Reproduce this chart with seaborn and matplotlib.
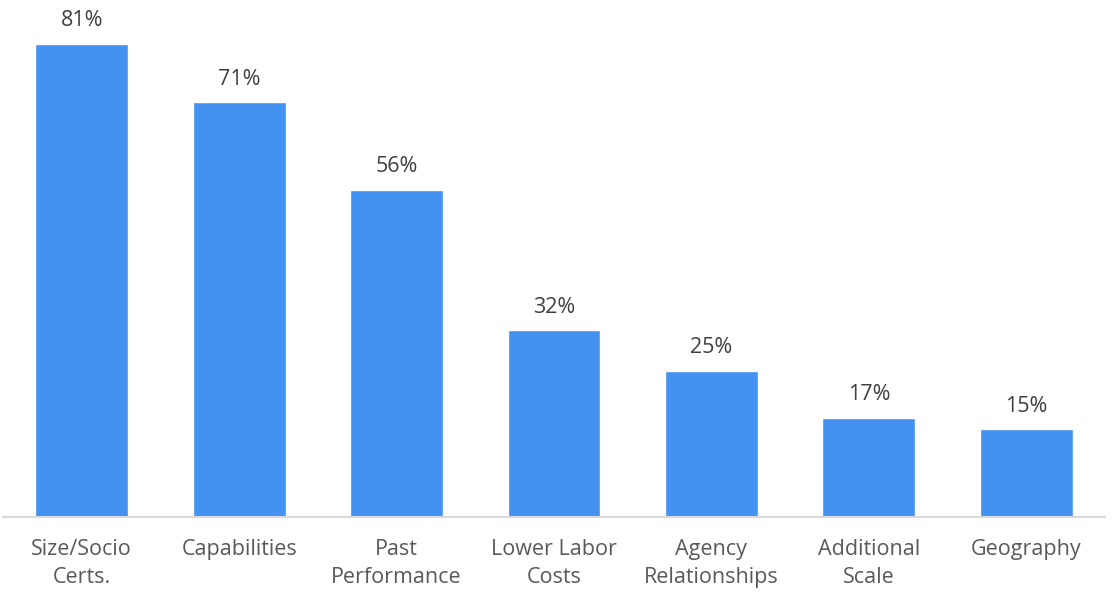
import matplotlib
matplotlib.use("Agg")
import matplotlib.pyplot as plt
import seaborn as sns
import pandas as pd

# data
categories = ["Size/Socio\nCerts.", "Capabilities", "Past\nPerformance", "Lower Labor\nCosts",
              "Agency\nRelationships", "Additional\nScale", "Geography"]
values = [81, 71, 56, 32, 25, 17, 15]

sns.set_style("white")
plt.rcParams['font.family'] = ['Open Sans', 'DejaVu Sans']

df = pd.DataFrame({"category": categories, "value": values})

fig = plt.figure(figsize=(11.16, 6.01), dpi=100)
ax = fig.add_axes([3 / 1116, (601 - 517) / 601, 1102 / 1116, 517 / 601])
sns.barplot(data=df, x="category", y="value", color="#4391F0", saturation=1,
            width=0.59, ax=ax)

ax.set_xlim(-0.5, 6.5)
ax.set_ylim(0, 88.5)
ax.set_xlabel("")
ax.set_ylabel("")
ax.set_yticks([])
for s in ["top", "right", "left"]:
    ax.spines[s].set_visible(False)
ax.spines["bottom"].set_color("#d9d9d9")
ax.spines["bottom"].set_linewidth(1.5)
ax.tick_params(axis="x", length=0, pad=16, labelsize=15.5, labelcolor="#595959")
for lbl in ax.get_xticklabels():
    lbl.set_linespacing(1.45)

for i, v in enumerate(values):
    ax.annotate(f"{v}%", (i, v), xytext=(0, 9), textcoords="offset points",
                ha="center", va="bottom", fontsize=15.5, color="#404040")

fig.savefig("out.png", dpi=100)
